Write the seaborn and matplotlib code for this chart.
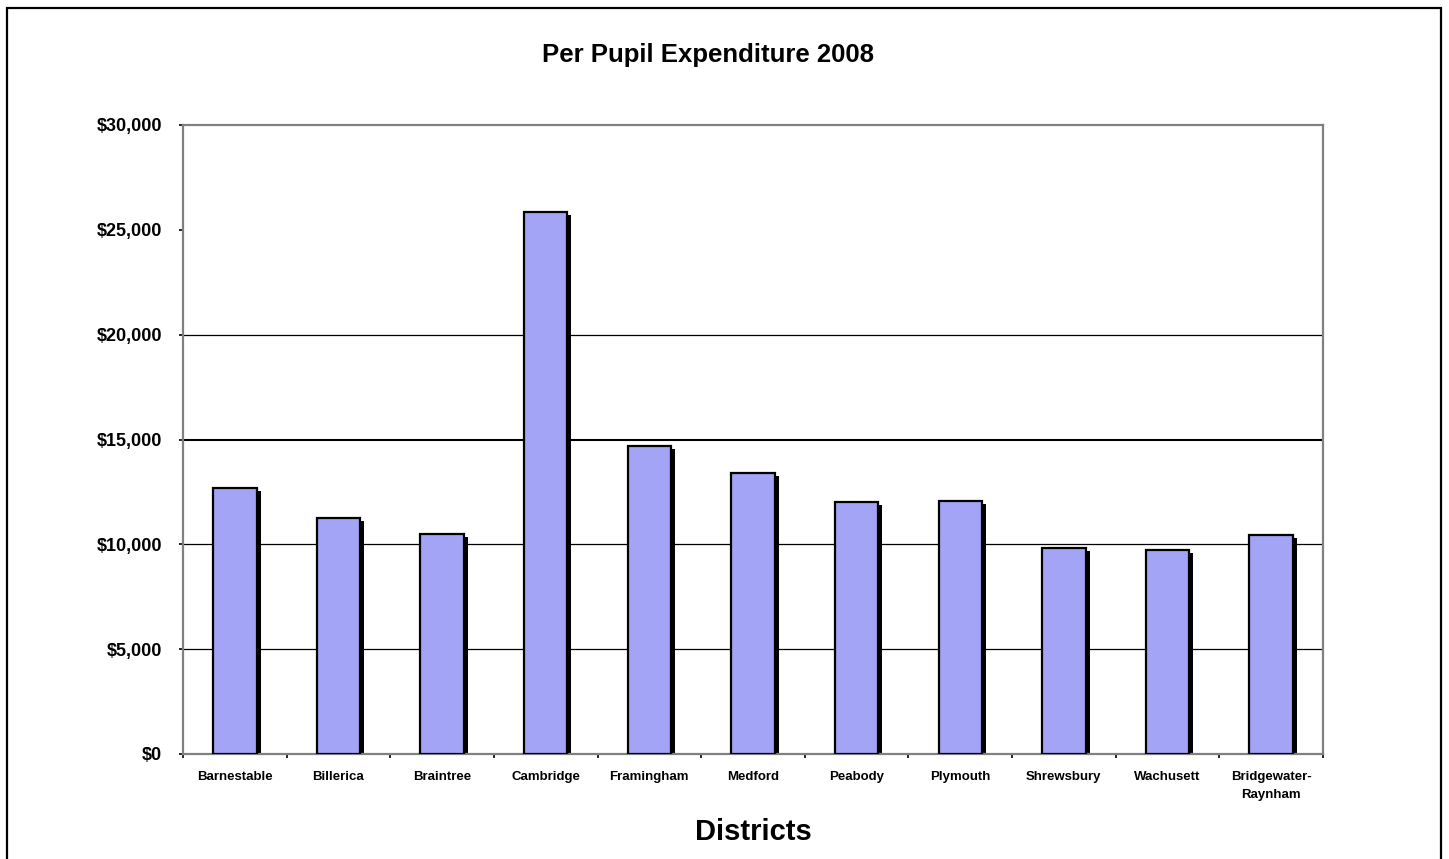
import matplotlib
matplotlib.use("Agg")
import matplotlib.pyplot as plt
import matplotlib.transforms as mtransforms
from matplotlib.patches import Rectangle
import seaborn as sns
import pandas as pd

districts = ["Barnestable", "Billerica", "Braintree", "Cambridge", "Framingham",
             "Medford", "Peabody", "Plymouth", "Shrewsbury", "Wachusett",
             "Bridgewater-\nRaynham"]
expenditure = [12670, 11240, 10480, 25870, 14690, 13420, 12000, 12080, 9840, 9710, 10430]
y_ticks = [0, 5000, 10000, 15000, 20000, 25000, 30000]
y_tick_labels = ["$0", "$5,000", "$10,000", "$15,000", "$20,000", "$25,000", "$30,000"]
grid_values = [5000, 10000, 20000]
grid_strong = [15000]
title = "Per Pupil Expenditure 2008"
xlabel = "Districts"

sns.set_theme(style="white")
plt.rcParams["font.family"] = ["Liberation Sans", "DejaVu Sans"]
plt.rcParams["text.color"] = "black"
plt.rcParams["xtick.color"] = "black"
plt.rcParams["ytick.color"] = "black"
plt.rcParams["xtick.labelcolor"] = "black"
plt.rcParams["ytick.labelcolor"] = "black"

df = pd.DataFrame({"district": districts, "value": expenditure})

fig = plt.figure(figsize=(14.49, 8.59), dpi=100)
ax = fig.add_axes([183/1449, 1-754/859, (1323-183)/1449, (754-125)/859])

sns.barplot(data=df, x="district", y="value", color="#a4a4f6", saturation=1,
            width=0.42, edgecolor="black", linewidth=1.6, ax=ax, zorder=3)

# drop shadows
shadow_off = mtransforms.ScaledTranslation(4/100, -3/100, fig.dpi_scale_trans)
for p in list(ax.patches):
    sh = Rectangle((p.get_x(), p.get_y()), p.get_width(), p.get_height(),
                   facecolor="black", edgecolor="none",
                   transform=ax.transData + shadow_off, zorder=2)
    ax.add_patch(sh)

ax.set_ylim(0, 30000)
ax.set_xlim(-0.5, len(districts) - 0.5)

for g in grid_values:
    ax.axhline(g, color="black", lw=0.9, zorder=1)
for g in grid_strong:
    ax.axhline(g, color="black", lw=1.5, zorder=1)

ax.set_yticks(y_ticks)
ax.set_yticklabels(y_tick_labels, fontsize=13, fontweight="bold", color="black")
ax.tick_params(axis="y", which="major", direction="out", length=3, width=1.2,
               color="black", pad=12, left=True)

ax.set_xticks([i - 0.5 for i in range(len(districts) + 1)])
ax.set_xticklabels([])
ax.set_xticks(range(len(districts)), minor=True)
ax.set_xticklabels(districts, minor=True, fontsize=9.5, fontweight="bold",
                   color="black", linespacing=1.75)
ax.tick_params(axis="x", which="major", direction="out", length=3, width=1.2,
               color="black", bottom=True)
ax.tick_params(axis="x", which="minor", length=0, pad=12)

for side in ["left", "right", "top", "bottom"]:
    ax.spines[side].set_visible(True)
    ax.spines[side].set_color("#808080")
    ax.spines[side].set_linewidth(1.6)
ax.set_xlabel("")
ax.set_ylabel("")

fig.text(708/1449, 1-55/859, title, ha="center", va="center",
         fontsize=18.5, fontweight="bold", color="black")
fig.text(753/1449, 1-832/859, xlabel, ha="center", va="center",
         fontsize=21, fontweight="bold", color="black")

# outer chart border
border = Rectangle((7/1449, -0.05), (1441-7)/1449, 1-8/859+0.05,
                   transform=fig.transFigure, fill=False, edgecolor="black",
                   linewidth=1.6, clip_on=False)
fig.patches.append(border)

fig.savefig("out.png", dpi=100, facecolor="white")
